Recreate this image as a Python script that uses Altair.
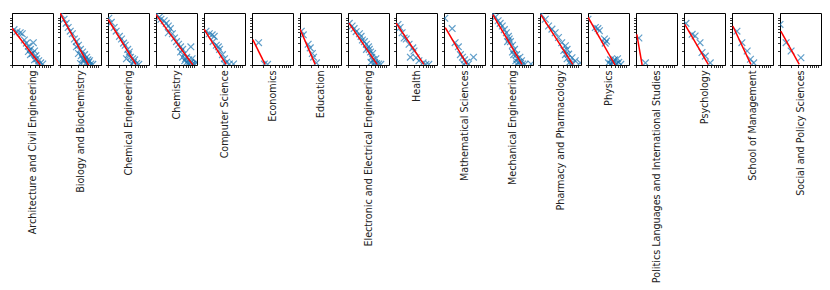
import altair as alt
import pandas as pd

departments = [
    "Architecture and Civil Engineering", "Biology and Biochemistry", "Chemical Engineering",
    "Chemistry", "Computer Science", "Economics", "Education",
    "Electronic and Electrical Engineering", "Health", "Mathematical Sciences",
    "Mechanical Engineering", "Pharmacy and Pharmacology", "Physics",
    "Politics Languages and International Studies", "Psychology",
    "School of Management", "Social and Policy Sciences",
]

points_x = [
    [1.13, 1.35, 1.64, 1.86, 2.11, 2.39, 2.70, 3.06, 3.64, 3.46, 3.92, 4.23, 4.44, 5.03, 5.69, 4.67, 6.45, 3.06, 2.70, 3.92],
    [1.08, 1.28, 1.45, 1.64, 1.86, 2.11, 2.39, 2.70, 3.06, 3.46, 3.92, 4.44, 5.03, 3.92, 4.44, 5.69, 6.45, 7.29, 3.46, 4.67, 5.42, 3.06, 4.23, 5.98, 5.16, 2.70, 3.64],
    [1.05, 1.22, 1.45, 1.64, 2.00, 2.27, 2.57, 2.84, 3.30, 3.64, 3.46, 3.92, 4.44, 4.67, 5.69, 6.45, 4.23, 3.06, 5.03],
    [1.05, 1.22, 1.35, 1.64, 1.86, 2.11, 2.39, 2.11, 2.70, 3.06, 3.46, 3.92, 4.44, 5.03, 8.26, 5.69, 6.45, 7.29, 8.26, 9.35, 10.61, 6.95, 5.69, 5.03, 8.90, 11.43, 5.98, 7.67, 6.45, 4.44, 8.90],
    [1.13, 1.38, 1.64, 1.86, 1.73, 2.11, 2.39, 2.57, 3.06, 3.46, 3.92, 4.67, 5.98, 3.46],
    [1.49, 2.11, 2.57],
    [1.08, 1.22, 1.64, 1.86, 2.11, 2.27, 2.70],
    [1.08, 1.28, 1.45, 1.64, 2.00, 2.21, 2.39, 2.70, 3.06, 3.46, 3.64, 3.92, 4.44, 4.23, 4.67, 5.03, 5.69, 6.45, 7.29, 3.06, 5.42, 4.02, 4.91],
    [1.13, 1.28, 1.45, 1.64, 1.86, 2.21, 2.77, 2.98, 3.38, 4.02, 5.16, 6.13, 7.29, 2.39],
    [1.05, 1.64, 1.96, 2.39, 2.70, 3.06, 3.46, 3.92, 4.44, 5.98, 3.30],
    [1.08, 1.22, 1.45, 1.64, 1.86, 2.11, 2.39, 2.70, 2.57, 3.06, 3.46, 3.92, 3.46, 4.44, 4.67, 4.23, 5.03, 5.69, 6.45, 5.42, 10.61, 7.29, 3.73, 4.44, 5.98, 2.84],
    [1.08, 1.38, 1.68, 2.06, 2.51, 3.06, 3.73, 4.67, 5.16, 5.69, 6.95, 8.46, 11.43, 5.98, 7.29, 5.16, 4.67, 6.29, 4.23],
    [1.00, 1.56, 1.82, 2.00, 2.70, 3.06, 2.84, 3.92, 4.44, 5.03, 5.69, 6.45, 4.23, 7.29, 5.42, 3.46, 4.67, 5.98, 3.92],
    [1.19, 1.77],
    [1.13, 1.64, 1.96, 2.64, 2.98, 3.64, 4.91],
    [1.35, 1.82, 2.51, 3.06, 3.73],
    [1.00, 1.45, 1.96, 3.55],
]
points_y = [
    [5.72, 5.17, 4.90, 4.66, 3.43, 2.94, 2.52, 2.16, 3.01, 1.76, 2.00, 1.59, 1.36, 1.23, 1.11, 1.05, 1.05, 1.67, 1.95, 1.29],
    [12.03, 9.55, 7.79, 6.35, 5.30, 4.66, 3.61, 3.17, 2.65, 2.16, 1.90, 1.67, 1.47, 1.36, 1.23, 1.14, 1.05, 1.03, 1.08, 1.08, 1.29, 1.76, 1.29, 1.23, 1.05, 2.45, 1.59],
    [10.06, 8.19, 6.35, 5.30, 4.10, 3.61, 2.94, 2.65, 2.16, 1.90, 1.67, 1.47, 1.36, 1.14, 1.08, 1.03, 1.05, 1.36, 1.29],
    [12.03, 10.59, 9.55, 8.86, 7.79, 6.84, 6.03, 4.90, 4.66, 3.79, 3.17, 2.79, 2.45, 2.16, 2.45, 1.76, 1.47, 1.29, 1.14, 1.05, 1.03, 1.08, 1.23, 1.47, 1.36, 1.14, 1.36, 1.05, 1.14, 1.90, 1.03],
    [5.30, 4.66, 4.43, 4.10, 3.17, 2.65, 2.45, 2.16, 1.67, 1.36, 1.14, 1.05, 1.05, 1.05],
    [3.01, 1.05, 1.03],
    [5.30, 4.43, 2.79, 2.33, 1.76, 1.47, 1.11],
    [7.79, 6.84, 6.03, 5.17, 4.66, 4.10, 3.43, 3.17, 2.79, 2.45, 2.16, 1.90, 1.76, 1.47, 1.29, 1.14, 1.08, 1.05, 1.03, 2.16, 1.36, 1.14, 1.05],
    [7.40, 6.35, 4.90, 3.79, 3.61, 2.79, 2.33, 2.00, 1.43, 1.23, 1.11, 1.03, 1.03, 1.47],
    [10.06, 6.03, 3.01, 2.45, 1.67, 1.47, 1.29, 1.14, 1.05, 1.47, 1.05],
    [12.03, 10.59, 8.86, 7.79, 6.84, 5.72, 4.90, 4.10, 3.17, 3.17, 2.65, 2.16, 1.90, 1.67, 1.36, 1.23, 1.14, 1.08, 1.05, 1.47, 1.05, 1.03, 1.67, 1.05, 1.23, 3.61],
    [12.03, 9.55, 6.84, 5.87, 4.90, 3.89, 3.01, 2.58, 2.16, 1.71, 1.43, 1.23, 1.11, 1.14, 1.05, 1.36, 1.67, 1.05, 2.05],
    [9.55, 6.35, 6.03, 5.43, 3.61, 3.25, 2.94, 1.29, 1.14, 1.29, 1.08, 1.14, 1.03, 1.03, 1.03, 1.11, 1.23, 1.36, 1.05],
    [3.79, 1.11],
    [7.79, 4.54, 4.20, 3.01, 1.85, 1.55, 1.11],
    [5.30, 3.01, 2.00, 1.33, 1.11],
    [7.40, 3.01, 2.00, 1.43],
]
fit_x = [
    [1.00, 5.56], [1.00, 5.64], [1.00, 5.42], [1.00, 9.35], [1.00, 3.83], [1.05, 2.21],
    [1.00, 2.51], [1.05, 5.84], [1.00, 5.42], [1.08, 4.02], [1.05, 6.13], [1.05, 7.29],
    [1.00, 5.16], [1.05, 1.45], [1.05, 4.34], [1.05, 3.14], [1.05, 3.21],
]
fit_y = [
    [6.18, 1.00], [13.0, 1.00], [9.55, 1.03], [12.03, 1.00], [5.87, 1.03], [3.51, 1.03],
    [5.87, 1.03], [7.98, 1.03], [7.98, 1.03], [6.35, 1.03], [12.03, 1.03], [12.03, 1.03],
    [10.59, 1.00], [4.54, 1.00], [7.40, 1.03], [6.84, 1.03], [5.30, 1.03],
]
tick_values = [1, 2, 3, 4, 5, 6, 7, 8, 9, 10]

rows_p, rows_l = [], []
for d, xs, ys in zip(departments, points_x, points_y):
    rows_p += [{"dept": d, "x": a, "y": b} for a, b in zip(xs, ys)]
for d, xs, ys in zip(departments, fit_x, fit_y):
    rows_l += [{"dept": d, "x": a, "y": b} for a, b in zip(xs, ys)]
pts = pd.DataFrame(rows_p)
lns = pd.DataFrame(rows_l)

xscale = alt.Scale(type="log", domain=[1, 12], nice=False)
yscale = alt.Scale(type="log", domain=[1, 13], nice=False)

panels = []
for d in departments:
    xax = alt.Axis(values=tick_values, labels=False, grid=False, title=d)
    yax = alt.Axis(values=tick_values, labels=False, grid=False, title=None)
    p = alt.Chart(pts).transform_filter(alt.datum.dept == d).mark_point(
        shape="M-1,-1L1,1M-1,1L1,-1", size=45, filled=False,
        stroke="#1f77b4", strokeWidth=1.2, opacity=0.7, clip=True
    ).encode(
        x=alt.X("x:Q", scale=xscale, axis=xax),
        y=alt.Y("y:Q", scale=yscale, axis=yax),
    )
    l = alt.Chart(lns).transform_filter(alt.datum.dept == d).mark_line(
        color="red", strokeWidth=1.5, clip=True
    ).encode(x="x:Q", y="y:Q")
    panels.append(alt.layer(p, l).properties(width=41, height=52))

chart = alt.hconcat(*panels, spacing=7, bounds="flush").properties(
    padding={"left": 0, "top": 4, "right": 0, "bottom": 0}
).configure_view(
    stroke="black", strokeWidth=1
).configure_axis(
    domainColor="black", tickColor="black", tickSize=2.5, tickWidth=0.8,
    titleFont="DejaVu Sans", titleFontSize=9.6, titleFontWeight="normal",
    titleColor="#222222", titleAngle=270, titleAlign="right",
    titleBaseline="middle", titlePadding=2,
)

chart.save("out.html", embed_options={"renderer": "svg", "actions": False})
